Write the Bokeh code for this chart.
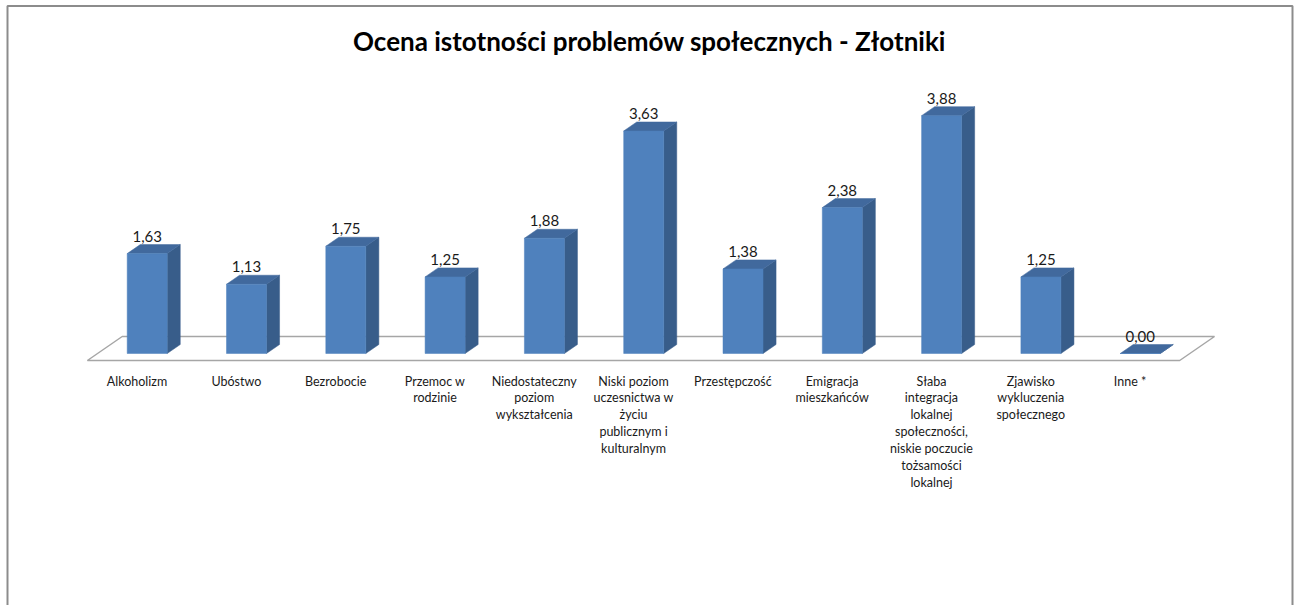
from bokeh.plotting import figure
from bokeh.models import Range1d, Label
from bokeh.embed import file_html
from bokeh.resources import INLINE
from bokeh.core.properties import value

# ---- data ----
categories = [
    "Alkoholizm",
    "Ubóstwo",
    "Bezrobocie",
    "Przemoc w\nrodzinie",
    "Niedostateczny\npoziom\nwykształcenia",
    "Niski poziom\nuczesnictwa w\nżyciu\npublicznym i\nkulturalnym",
    "Przestępczość",
    "Emigracja\nmieszkańców",
    "Słaba\nintegracja\nlokalnej\nspołeczności,\nniskie poczucie\ntożsamości\nlokalnej",
    "Zjawisko\nwykluczenia\nspołecznego",
    "Inne *",
]
values = [1.63, 1.13, 1.75, 1.25, 1.88, 3.63, 1.38, 2.38, 3.88, 1.25, 0.00]
title_text = "Ocena istotności problemów społecznych - Złotniki"

# ---- layout / style ----
W, H = 1298, 605
PX_X = 99.3   # pixels per category
PX_Y = 61.3   # pixels per value unit
x0 = -146.7 / PX_X
y_top = 353 / PX_Y

FRONT = "#4f81bd"
SIDE = "#385d8a"
TOP = "#41699d"
FONT = "Lato"

DX = 1.45 / PX_X   # x shift per pixel of depth
DY = 1.0 / PX_Y    # y shift per pixel of depth
HW = 20 / PX_X     # half bar width
D = 9              # bar depth (px)

def cx(px):
    return x0 + px / PX_X

def cy(py):
    return y_top - py / PX_Y

p = figure(width=W, height=H, output_backend="svg", toolbar_location=None,
           x_range=Range1d(x0, x0 + W / PX_X), y_range=Range1d(y_top - H / PX_Y, y_top),
           x_axis_location=None, y_axis_location=None, min_border=0)
p.grid.visible = False
p.outline_line_color = None
p.background_fill_color = "white"
p.border_fill_color = "white"

# chart border (left, top, right)
p.line([cx(7), cx(7), cx(1292), cx(1292)], [cy(H + 20), cy(5.5), cy(5.5), cy(H + 20)],
       line_color="#8c8c8c", line_width=2)

# floor
n = len(values)
fx = [-0.5 - 7 * DX, n - 0.5 - 7 * DX, n - 0.5 + 17 * DX, -0.5 + 17 * DX]
fy = [-7 * DY, -7 * DY, 17 * DY, 17 * DY]
p.patch(fx, fy, fill_color="white", line_color="#a6a6a6", line_width=1.5)

idx = list(range(n))
# side faces
side_xs = [[i + HW, i + HW + D * DX, i + HW + D * DX, i + HW] for i in idx]
side_ys = [[0, D * DY, v + D * DY, v] for v in values]
p.patches(side_xs, side_ys, fill_color=SIDE, line_color=SIDE, line_width=0.5)
# top faces
top_xs = [[i - HW, i + HW, i + HW + D * DX, i - HW + D * DX] for i in idx]
top_ys = [[v, v, v + D * DY, v + D * DY] for v in values]
p.patches(top_xs, top_ys, fill_color=TOP, line_color=TOP, line_width=0.5)
# front faces
p.quad(left=[i - HW for i in idx], right=[i + HW for i in idx],
       bottom=[0] * n, top=values, fill_color=FRONT, line_color=FRONT, line_width=0.5)

# value labels
p.text(x=idx, y=[v + (D + 3) * DY for v in values],
       text=[f"{v:.2f}".replace(".", ",") for v in values],
       text_font=value(FONT), text_font_size="15px", text_color="#1a1a1a",
       text_align="center", text_baseline="bottom")

# category labels
p.text(x=[i - 7 * DX for i in idx], y=[-20 * DY] * n, text=categories,
       text_font=value(FONT), text_font_size="12.5px", text_color="#1a1a1a",
       text_align="center", text_baseline="top", text_line_height=1.13)

# title
p.add_layout(Label(x=cx(649), y=cy(40), text=title_text, text_font=FONT,
                   text_font_size="26px", text_font_style="bold", text_color="black",
                   text_align="center", text_baseline="middle"))

open("out.html", "w").write(file_html(p, INLINE))
